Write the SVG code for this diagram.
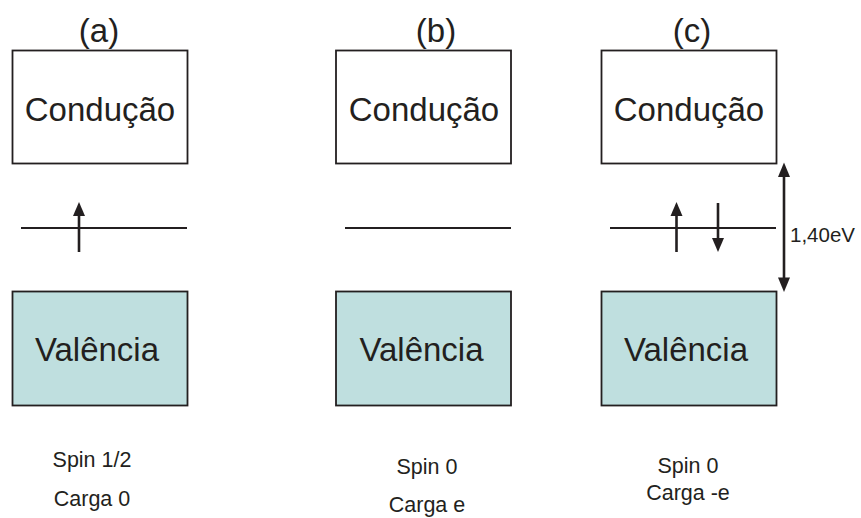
<svg xmlns="http://www.w3.org/2000/svg" width="861" height="518" viewBox="0 0 861 518">
<style>
text{font-family:"Liberation Sans",Arial,sans-serif;fill:#231f20;text-anchor:middle}
.big{font-size:33px}
.small{font-size:21.5px}
.box{fill:#ffffff;stroke:#231f20;stroke-width:1.8}
.val{fill:#bfdfdf;stroke:#231f20;stroke-width:1.8}
.lvl{stroke:#231f20;stroke-width:2.2;fill:none}
.arr{stroke:#231f20;stroke-width:2.6;fill:none}
.head{fill:#231f20}
</style>
<rect width="861" height="518" fill="#ffffff"/>
<g id="panel-a">
<text class="big" x="99" y="42">(a)</text>
<g id="cond-a"><rect class="box" x="12.5" y="50.5" width="175" height="113"/><text class="big" x="100" y="121">Condução</text></g>
<g id="val-a"><rect class="val" x="12.5" y="291.5" width="175" height="114"/><text class="big" x="97" y="361">Valência</text></g>
<text class="small" x="92" y="467">Spin 1/2</text>
<text class="small" x="92" y="506">Carga 0</text>
</g>
<g id="panel-b">
<text class="big" x="436" y="42">(b)</text>
<g id="cond-b"><rect class="box" x="336" y="50.5" width="175" height="113"/><text class="big" x="424" y="121">Condução</text></g>
<g id="val-b"><rect class="val" x="336" y="291.5" width="175" height="114"/><text class="big" x="421.5" y="361">Valência</text></g>
<text class="small" x="427" y="474">Spin 0</text>
<text class="small" x="427" y="512">Carga e</text>
</g>
<g id="panel-c">
<text class="big" x="692" y="42">(c)</text>
<g id="cond-c"><rect class="box" x="601.5" y="50.5" width="175" height="113"/><text class="big" x="689" y="121">Condução</text></g>
<g id="val-c"><rect class="val" x="601.5" y="291.5" width="175" height="114"/><text class="big" x="686" y="361">Valência</text></g>
<text class="small" x="688" y="473">Spin 0</text>
<text class="small" x="688" y="500">Carga -e</text>
<text class="small" x="790" y="242" style="text-anchor:start;font-size:20.5px">1,40eV</text>
</g>
<g id="connectors">
<line class="lvl" x1="21" y1="228" x2="187" y2="228"/>
<line class="lvl" x1="345" y1="228" x2="511" y2="228"/>
<line class="lvl" x1="610" y1="228" x2="776" y2="228"/>
<line class="arr" x1="79" y1="252" x2="79" y2="212"/>
<polygon class="head" points="79,202 73,216 85,216"/>
<line class="arr" x1="676.5" y1="252" x2="676.5" y2="212"/>
<polygon class="head" points="676.5,202 670.5,216 682.5,216"/>
<line class="arr" x1="718" y1="203" x2="718" y2="242"/>
<polygon class="head" points="718,252 712,238 724,238"/>
<line class="arr" x1="784" y1="172" x2="784" y2="282"/>
<polygon class="head" points="784,162.5 778,177 790,177"/>
<polygon class="head" points="784,292 778,277.5 790,277.5"/>
</g>
</svg>
